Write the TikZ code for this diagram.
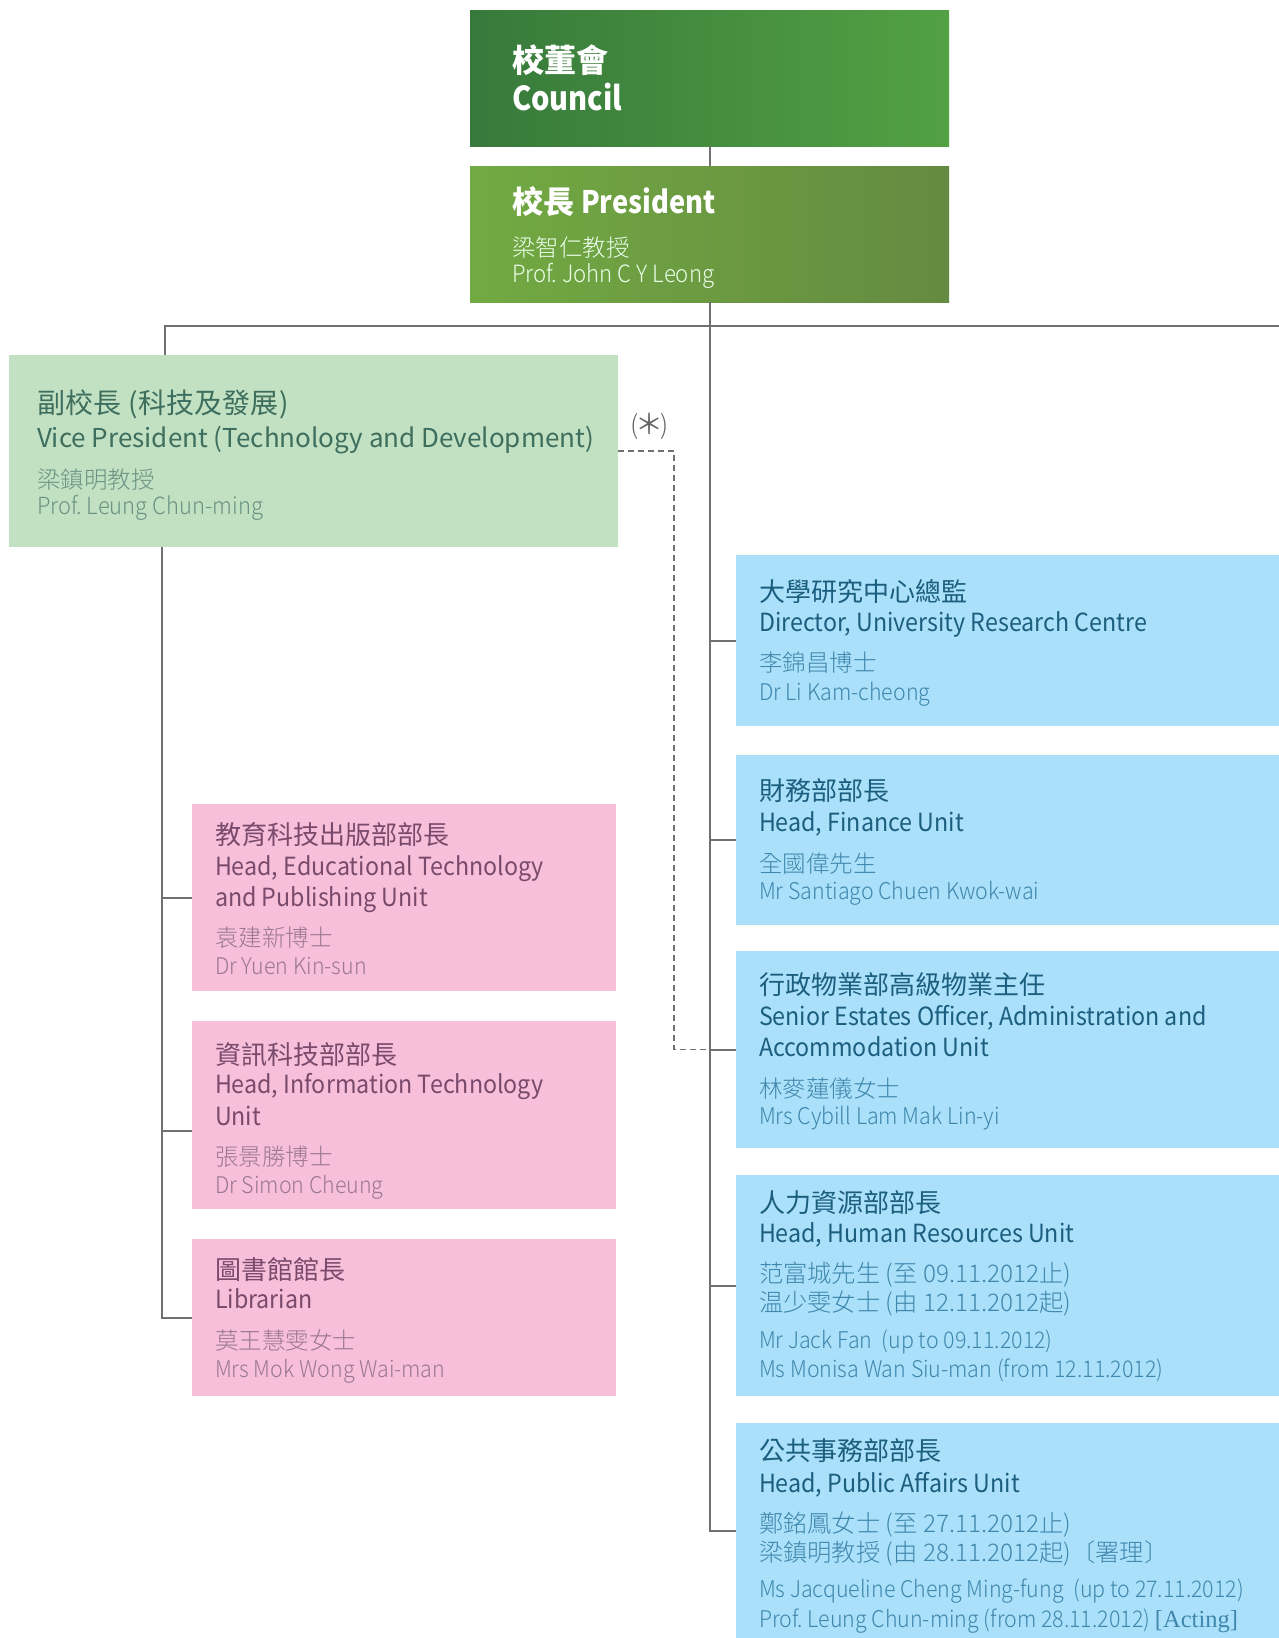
\documentclass[tikz,border=0pt]{standalone}
\usepackage{fontspec}
\setmainfont{Noto Sans CJK TC}
\newfontfamily\serifLS{Liberation Serif}
\newfontfamily\latT{Noto Sans CJK TC}[FakeStretch=0.93]
\newfontfamily\boldLat{Noto Sans CJK TC}[FakeStretch=0.88]
\IfFontExistsTF{Noto Sans CJK TC Light}{%
  \newfontfamily\nameLat{Noto Sans CJK TC Light}[FakeStretch=0.93]%
  \newfontfamily\nameCJK{Noto Sans CJK TC Light}}{%
  \newfontfamily\nameLat{Noto Sans CJK TC}[FakeStretch=0.9]%
  \newfontfamily\nameCJK{Noto Sans CJK TC}}
\newcommand\fsz[1]{\fontsize{#1}{#1}\selectfont}
\newcommand\ttlCJK{\fsz{26}}
\newcommand\ttlLat{\latT\fsz{25}}
\newcommand\nmCJK{\nameCJK\fsz{23.5}}
\newcommand\nmLat{\nameLat\fsz{23}}
\newcommand\nmMix{\nameCJK\fsz{24.3}}
\definecolor{linegray}{HTML}{707070}
\definecolor{cDark}{HTML}{37793B}
\definecolor{cLight}{HTML}{52A143}
\definecolor{pLeft}{HTML}{72AA42}
\definecolor{pRight}{HTML}{658A41}
\definecolor{vpFill}{HTML}{C2E1C3}
\definecolor{vpTitle}{HTML}{3E6E5E}
\definecolor{vpName}{HTML}{6C9282}
\definecolor{pkFill}{HTML}{F7BFD9}
\definecolor{pkTitle}{HTML}{7A4A6C}
\definecolor{pkName}{HTML}{9B7890}
\definecolor{blFill}{HTML}{ABE0FA}
\definecolor{blTitle}{HTML}{1B5E7E}
\definecolor{blName}{HTML}{3F87AC}
\begin{document}
\frenchspacing
\begin{tikzpicture}[x=1pt,y=-1pt,
  conn/.style={draw=linegray,line width=2pt},
  dashconn/.style={draw=linegray,line width=1.6pt,dash pattern=on 6pt off 4pt},
  box/.style={anchor=north west,inner sep=0,outer sep=0,draw=none},
  txt/.style={anchor=base west,inner sep=0,outer sep=0},
  vpT/.style={txt,text=vpTitle},
  vpN/.style={txt,text=vpName},
  pkT/.style={txt,text=pkTitle},
  pkN/.style={txt,text=pkName},
  blT/.style={txt,text=blTitle},
  blN/.style={txt,text=blName}]
\useasboundingbox (0,0) rectangle (1279,1638);
\fill[white] (0,0) rectangle (1279,1638);

% ---- boxes ----
\node[box,minimum width=479pt,minimum height=136pt,left color=cDark,right color=cLight] (council) at (470,10) {};
\node[box,minimum width=479pt,minimum height=136pt,left color=pLeft,right color=pRight] (pres) at (470,166) {};
\node[box,minimum width=609pt,minimum height=192pt,fill=vpFill] (vp) at (9,355) {};
\node[box,minimum width=424pt,minimum height=187pt,fill=pkFill] (p1) at (192,804) {};
\node[box,minimum width=424pt,minimum height=188pt,fill=pkFill] (p2) at (192,1021) {};
\node[box,minimum width=424pt,minimum height=157pt,fill=pkFill] (p3) at (192,1239) {};
\node[box,minimum width=543pt,minimum height=171pt,fill=blFill] (b1) at (736,555) {};
\node[box,minimum width=543pt,minimum height=170pt,fill=blFill] (b2) at (736,755) {};
\node[box,minimum width=543pt,minimum height=197pt,fill=blFill] (b3) at (736,951) {};
\node[box,minimum width=543pt,minimum height=221pt,fill=blFill] (b4) at (736,1175) {};
\node[box,minimum width=543pt,minimum height=215pt,fill=blFill] (b5) at (736,1423) {};

% ---- connectors ----
\coordinate (hjL) at (165,326);
\coordinate (hjR) at (1279,326);
\coordinate (vpx) at (162,0);
\coordinate (dx) at (674,0);
\draw[conn] (council.south) -- (pres.north);
\draw[conn] (pres.south) -- (pres.south |- b5.west) -- (b5.west);
\draw[conn] (hjR) -- (hjL) -- (hjL |- vp.north);
\draw[conn] (pres.south |- b1.west) -- (b1.west);
\draw[conn] (pres.south |- b2.west) -- (b2.west);
\draw[conn] (pres.south |- b3.west) -- (b3.west);
\draw[conn] (pres.south |- b4.west) -- (b4.west);
\draw[conn] (vpx |- vp.south) -- (vpx |- p3.west) -- (p3.west);
\draw[conn] (vpx |- p1.west) -- (p1.west);
\draw[conn] ([yshift=-16pt]p2.west -| vpx) -- ([yshift=-16pt]p2.west);
\draw[dashconn] (vp.east) -- (vp.east -| dx) -- (dx |- b3.west) -- (pres.south |- b3.west);
\node[txt,text=linegray!90!black] (star) at (630,434) {\nameCJK\fsz{26}(\hspace{-3pt}{\fontspec{Noto Sans CJK TC}\fsz{28}＊}\hspace{-3pt})};

% ---- council / president ----
\node[txt,text=white] (c1) at (512,72) {\fsz{32}\bfseries 校董會};
\node[txt,text=white] (c2) at (512,110) {\boldLat\fsz{33}\bfseries Council};
\node[txt,text=white] (pr1) at (512,213) {\fsz{31}\bfseries 校長 {\boldLat President}};
\node[txt,text=white!92!green] (pr2) at (512,256) {\nmCJK 梁智仁教授};
\node[txt,text=white!92!green] (pr3) at (512,282) {\nameLat\fsz{23.8}Prof. John C Y Leong};

% ---- VP ----
\node[vpT] (v1) at (37,413) {\fsz{28}副校長\hspace{8pt}(科技及發展\hspace{1pt})};
\node[vpT] (v2) at (37,447) {\fsz{26}Vice President (Technology and Development)};
\node[vpN] (v3) at (37,488) {\nmCJK 梁鎮明教授};
\node[vpN] (v4) at (37,514) {\nameLat\fsz{23.6}Prof. Leung Chun-ming};

% ---- pink ----
\node[pkT] (p1a) at (215,844) {\ttlCJK 教育科技出版部部長};
\node[pkT] (p1b) at (215,875) {\ttlLat Head, Educational Technology};
\node[pkT] (p1c) at (215,906) {\ttlLat and Publishing Unit};
\node[pkN] (p1d) at (215,946) {\nmCJK 袁建新博士};
\node[pkN] (p1e) at (215,974) {\nmLat Dr Yuen Kin-sun};

\node[pkT] (p2a) at (215,1064) {\ttlCJK 資訊科技部部長};
\node[pkT] (p2b) at (215,1093) {\ttlLat Head, Information Technology};
\node[pkT] (p2c) at (215,1125) {\ttlLat Unit};
\node[pkN] (p2d) at (215,1165) {\nmCJK 張景勝博士};
\node[pkN] (p2e) at (215,1193) {\nmLat Dr Simon Cheung};

\node[pkT] (p3a) at (215,1279) {\ttlCJK 圖書館館長};
\node[pkT] (p3b) at (215,1308) {\ttlLat Librarian};
\node[pkN] (p3c) at (215,1349) {\nmCJK 莫王慧雯女士};
\node[pkN] (p3d) at (215,1377) {\nmLat Mrs Mok Wong Wai-man};

% ---- blue ----
\node[blT] (b1a) at (759,601) {\ttlCJK 大學研究中心總監};
\node[blT] (b1b) at (759,631) {\ttlLat Director, University Research Centre};
\node[blN] (b1c) at (759,671) {\nmCJK 李錦昌博士};
\node[blN] (b1d) at (759,700) {\nmLat Dr Li Kam-cheong};

\node[blT] (b2a) at (759,800) {\ttlCJK 財務部部長};
\node[blT] (b2b) at (759,831) {\ttlLat Head, Finance Unit};
\node[blN] (b2c) at (759,872) {\nmCJK 全國偉先生};
\node[blN] (b2d) at (759,899) {\nmLat Mr Santiago Chuen Kwok-wai};

\node[blT] (b3a) at (759,994) {\ttlCJK 行政物業部高級物業主任};
\node[blT] (b3b) at (759,1025) {\ttlLat Senior Estates Officer, Administration and};
\node[blT] (b3c) at (759,1056) {\ttlLat Accommodation Unit};
\node[blN] (b3d) at (759,1097) {\nmCJK 林麥蓮儀女士};
\node[blN] (b3e) at (759,1124) {\nmLat Mrs Cybill Lam Mak Lin-yi};

\node[blT] (b4a) at (759,1212) {\ttlCJK 人力資源部部長};
\node[blT] (b4b) at (759,1242) {\ttlLat Head, Human Resources Unit};
\node[blN] (b4c) at (759,1282) {\nmMix 范富城先生 (至 09.11.2012止)};
\node[blN] (b4d) at (759,1311) {\nmMix 温少雯女士 (由 12.11.2012起)};
\node[blN] (b4e) at (759,1348) {\nmLat Mr Jack Fan\ \ (up to 09.11.2012)};
\node[blN] (b4f) at (759,1377) {\nmLat Ms Monisa Wan Siu-man (from 12.11.2012)};

\node[blT] (b5a) at (759,1460) {\ttlCJK 公共事務部部長};
\node[blT] (b5b) at (759,1492) {\ttlLat Head, Public Affairs Unit};
\node[blN] (b5c) at (759,1532) {\nmMix 鄭銘鳳女士 (至 27.11.2012止)};
\node[blN] (b5d) at (759,1561) {\nmMix 梁鎮明教授 (由 28.11.2012起)〔署理〕};
\node[blN] (b5e) at (759,1597) {\nmLat Ms Jacqueline Cheng Ming-fung\ \ (up to 27.11.2012)};
\node[blN] (b5f) at (759,1627) {\nmLat Prof. Leung Chun-ming (from 28.11.2012) {\serifLS\fsz{24.5}[Acting]}};
\end{tikzpicture}
\end{document}
